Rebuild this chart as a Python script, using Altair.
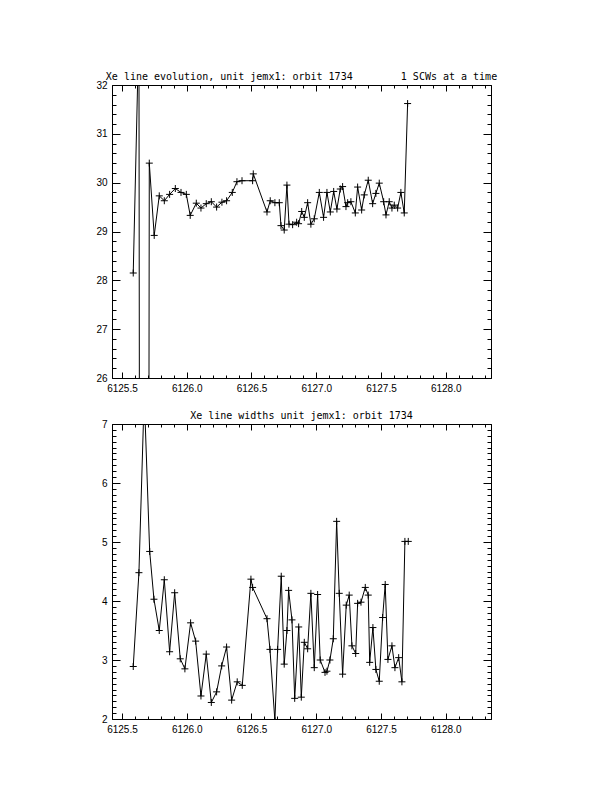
import altair as alt
import pandas as pd

# ---- data ----
top_time = [6125.587, 6125.631, 6125.668, 6125.711, 6125.749, 6125.788, 6125.827, 6125.868,
            6125.912, 6125.956, 6125.997, 6126.027, 6126.074, 6126.110, 6126.151, 6126.190,
            6126.231, 6126.272, 6126.308, 6126.352, 6126.388, 6126.427, 6126.509, 6126.514,
            6126.620, 6126.645, 6126.681, 6126.715, 6126.728, 6126.753, 6126.774, 6126.790,
            6126.818, 6126.849, 6126.864, 6126.888, 6126.908, 6126.934, 6126.959, 6126.985,
            6127.024, 6127.057, 6127.083, 6127.109, 6127.135, 6127.160, 6127.186, 6127.204,
            6127.230, 6127.243, 6127.268, 6127.302, 6127.320, 6127.351, 6127.371, 6127.402,
            6127.436, 6127.461, 6127.487, 6127.521, 6127.539, 6127.564, 6127.585, 6127.603,
            6127.629, 6127.654, 6127.680, 6127.706]
top_energy = [28.15, 33.2, -50.0, 30.40, 28.92, 29.73, 29.63, 29.76,
              29.88, 29.80, 29.76, 29.33, 29.58, 29.48, 29.57, 29.61,
              29.50, 29.60, 29.63, 29.80, 30.02, 30.04, 30.04, 30.18,
              29.40, 29.63, 29.59, 29.59, 29.12, 29.03, 29.95, 29.15,
              29.14, 29.19, 29.16, 29.41, 29.29, 29.59, 29.15, 29.26,
              29.80, 29.29, 29.80, 29.40, 29.82, 29.46, 29.87, 29.92,
              29.51, 29.59, 29.61, 29.38, 29.91, 29.44, 29.75, 30.05,
              29.57, 29.78, 29.99, 29.61, 29.34, 29.61, 29.48, 29.54,
              29.48, 29.80, 29.38, 31.62]

bot_time = [6125.587, 6125.631, 6125.672, 6125.714, 6125.747, 6125.788, 6125.827, 6125.868,
            6125.907, 6125.950, 6125.986, 6126.030, 6126.069, 6126.110, 6126.151, 6126.190,
            6126.231, 6126.270, 6126.308, 6126.347, 6126.390, 6126.429, 6126.496, 6126.509,
            6126.620, 6126.643, 6126.681, 6126.702, 6126.730, 6126.753, 6126.774, 6126.787,
            6126.813, 6126.834, 6126.865, 6126.885, 6126.908, 6126.934, 6126.959, 6126.985,
            6127.011, 6127.031, 6127.068, 6127.083, 6127.106, 6127.132, 6127.158, 6127.178,
            6127.204, 6127.232, 6127.255, 6127.276, 6127.305, 6127.320, 6127.346, 6127.379,
            6127.402, 6127.413, 6127.438, 6127.461, 6127.487, 6127.513, 6127.533, 6127.554,
            6127.585, 6127.608, 6127.637, 6127.662, 6127.685, 6127.711]
bot_width = [2.89, 4.48, 7.5, 4.84, 4.03, 3.50, 4.36, 3.14,
             4.14, 3.02, 2.85, 3.63, 3.32, 2.39, 3.10, 2.28,
             2.46, 2.90, 3.22, 2.32, 2.63, 2.57, 4.37, 4.23,
             3.70, 3.18, 1.97, 3.18, 4.42, 2.93, 3.50, 4.18,
             3.68, 2.35, 3.56, 2.37, 3.30, 3.19, 4.13, 2.87,
             4.11, 3.00, 2.79, 2.81, 3.00, 3.36, 5.35, 4.13,
             2.76, 3.93, 4.10, 3.24, 3.11, 3.96, 3.98, 4.23,
             4.10, 2.96, 3.55, 2.84, 2.64, 3.72, 4.28, 3.01,
             3.24, 2.87, 3.04, 2.63, 5.01, 5.01]

x_domain = [6125.423, 6128.35]
x_major = [6125.5, 6126.0, 6126.5, 6127.0, 6127.5, 6128.0]
x_minor = [round(6125.5 + 0.1 * i, 1) for i in range(29)]

top_domain = [26, 32]
top_major = [26, 27, 28, 29, 30, 31, 32]
top_minor = [round(26 + 0.2 * i, 1) for i in range(31)]

bot_domain = [2, 7]
bot_major = [2, 3, 4, 5, 6, 7]
bot_minor = [round(2 + 0.1 * i, 1) for i in range(51)]

top_title = "Xe line evolution, unit jemx1: orbit 1734" + "\u00a0" * 8 + "1 SCWs at a time"
bot_title = "Xe line widths unit jemx1: orbit 1734"

W = 379
H_TOP = 293
H_BOT = 295

LABEL_FONT = "Liberation Sans"
PLUS = "M-1,0L1,0M0,-1L0,1"


def label_axis_x():
    return alt.Axis(orient="bottom", values=x_major, format=".1f", ticks=False, domain=False,
                    grid=False, title=None, labelFont=LABEL_FONT, labelFontSize=10,
                    labelColor="black", labelPadding=5, labelFlush=False, labelOverlap=False)


def label_axis_y(vals):
    return alt.Axis(orient="left", values=vals, format="d", ticks=False, domain=False,
                    grid=False, title=None, labelFont=LABEL_FONT, labelFontSize=10,
                    labelColor="black", labelPadding=5, labelFlush=False, labelOverlap=False,
                    minExtent=30, maxExtent=30)


def tick_axis(orient, offset, vals, size):
    return alt.Axis(orient=orient, offset=offset, values=vals, labels=False, ticks=True,
                    tickSize=size, tickColor="black", tickWidth=1, domain=False, grid=False,
                    title=None, minExtent=0, maxExtent=0)


def panel(times, values, ydom, ymaj, ymin, H, title):
    df = pd.DataFrame({"t": times, "v": values})
    xs = alt.Scale(domain=x_domain, nice=False, zero=False)
    ys = alt.Scale(domain=ydom, nice=False, zero=False)
    base = alt.Chart(df)

    def enc(xaxis, yaxis):
        return dict(
            x=alt.X("t:Q", scale=xs, axis=xaxis),
            y=alt.Y("v:Q", scale=ys, axis=yaxis),
        )

    line = base.mark_line(color="black", strokeWidth=1, clip=True).encode(
        **enc(label_axis_x(), label_axis_y(ymaj)))
    pts = base.mark_point(shape=PLUS, size=49, filled=False, color="black",
                          strokeWidth=1, opacity=1, clip=True).encode(
        **enc(tick_axis("top", -H, x_major, 6), tick_axis("right", -W, ymaj, 8)))
    inv1 = base.mark_line(strokeOpacity=0, clip=True).encode(
        **enc(tick_axis("bottom", -H, x_major, 6), tick_axis("left", -W, ymaj, 8)))
    inv2 = base.mark_line(strokeOpacity=0, clip=True).encode(
        **enc(tick_axis("top", -H, x_minor, 3), tick_axis("right", -W, ymin, 4)))
    inv3 = base.mark_line(strokeOpacity=0, clip=True).encode(
        **enc(tick_axis("bottom", -H, x_minor, 3), tick_axis("left", -W, ymin, 4)))

    return alt.layer(line, pts, inv1, inv2, inv3).resolve_axis(
        x="independent", y="independent"
    ).properties(
        width=W, height=H,
        title=alt.TitleParams(text=title, font="DejaVu Sans Mono", fontSize=10,
                              fontWeight="normal", anchor="middle", color="black",
                              baseline="alphabetic", offset=-10, frame="group"),
    )


top = panel(top_time, top_energy, top_domain, top_major, top_minor, H_TOP, top_title)
bot = panel(bot_time, bot_width, bot_domain, bot_major, bot_minor, H_BOT, bot_title)

chart = alt.vconcat(top, bot, spacing=16).properties(
    padding={"left": 73, "top": 63, "right": 5, "bottom": 5},
    background="white",
).configure_view(stroke="black", strokeWidth=1)

chart.save("out.html", embed_options={"renderer": "svg", "actions": False})
